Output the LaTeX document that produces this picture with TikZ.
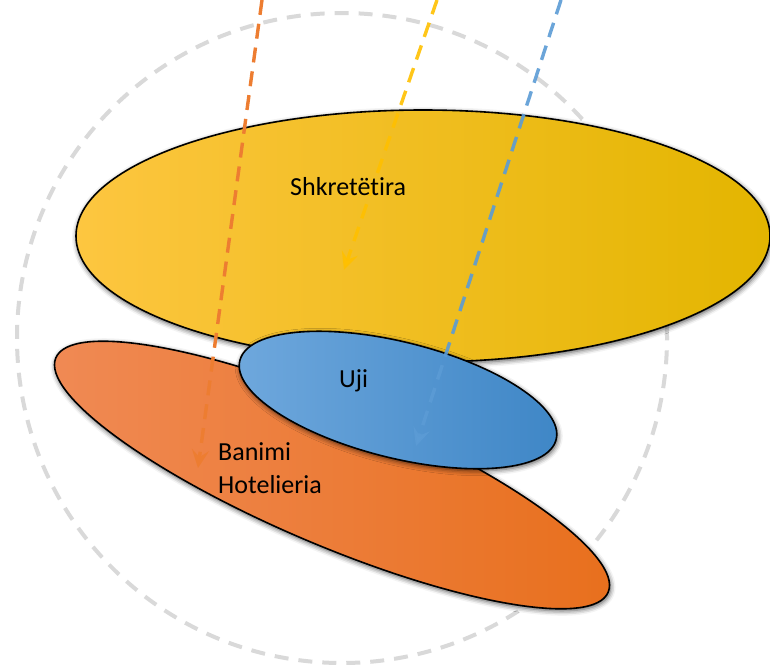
\documentclass[tikz,border=0pt]{standalone}
\usepackage{fontspec}
\setmainfont{Carlito}[Ligatures=NoCommon]
\usetikzlibrary{shapes.geometric, shadows.blur, arrows.meta}
\definecolor{ringgray}{HTML}{D9D9D9}
\definecolor{yelL}{HTML}{FDC640}
\definecolor{yelM}{HTML}{FFC400}
\definecolor{yelR}{HTML}{E3B500}
\definecolor{orL}{HTML}{F08A55}
\definecolor{orR}{HTML}{E86F1C}
\definecolor{blL}{HTML}{6FA8DD}
\definecolor{blR}{HTML}{3E86C6}
\definecolor{arrOr}{HTML}{ED7D31}
\definecolor{arrYe}{HTML}{FFC000}
\definecolor{arrBl}{HTML}{5B9BD5}
\tikzset{
  blob/.style={ellipse, draw=black, line width=1.6pt, inner sep=0pt,
    blur shadow={shadow xshift=1pt, shadow yshift=-2pt, shadow blur radius=5pt, shadow opacity=70}},
  flow/.style={line width=3.4pt, dash pattern=on 15pt off 9pt,
    -{Stealth[length=18pt, width=17pt, inset=7pt]}},
  lbl/.style={anchor=base west, inner sep=0pt, font=\fontsize{26}{31}\selectfont, text=black}
}
\begin{document}
\begin{tikzpicture}[x=1pt, y=-1pt]
\useasboundingbox (0,0) rectangle (770,664);
\node[circle, draw=ringgray, line width=4pt, dash pattern=on 14pt off 10pt,
      minimum size=650pt, inner sep=0pt] (ring) at (342,338) {};
\node[blob, minimum width=694pt, minimum height=252pt,
      left color=yelL, middle color=yelM, right color=yelR] (desert) at (423,236) {};
\node[blob, minimum width=600pt, minimum height=140pt, rotate=-23,
      left color=orL, right color=orR] (housing) at (332,475) {};
\node[blob, minimum width=326pt, minimum height=116pt, rotate=-14,
      left color=blL, right color=blR] (water) at (398,400) {};
\coordinate (oS) at (262,0);
\coordinate (oE) at (198,468);
\coordinate (yS) at (437,0);
\coordinate (yE) at (344,270);
\coordinate (bS) at (561,0);
\coordinate (bE) at (416,446);
\draw[flow, arrOr] (oS) -- (oE);
\draw[flow, arrYe, draw opacity=0.9] (yS) -- (yE);
\draw[flow, arrBl, draw opacity=0.9] (bS) -- (bE);
\node[lbl] (tdesert) at (290,195) {Shkretëtira};
\node[lbl] (twater) at (339,387) {Uji};
\node[lbl] (thousing1) at (218,460) {Banimi};
\node[lbl] (thousing2) at (218,493) {Hotelieria};
\end{tikzpicture}
\end{document}
